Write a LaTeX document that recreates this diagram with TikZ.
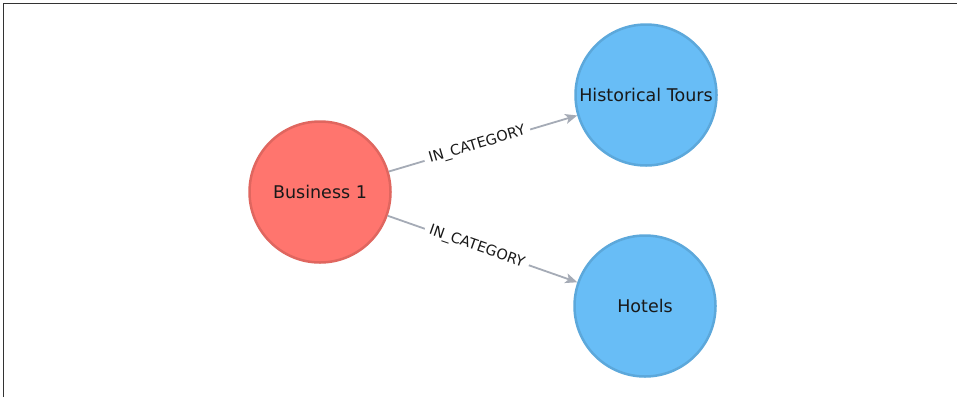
\documentclass[tikz,border=0pt]{standalone}
\usepackage{fontspec}
\setmainfont{DejaVu Sans}
\usetikzlibrary{arrows.meta}
\definecolor{redfill}{HTML}{FF756E}
\definecolor{redline}{HTML}{E0665F}
\definecolor{bluefill}{HTML}{68BDF6}
\definecolor{blueline}{HTML}{5CA8DB}
\definecolor{edgegray}{HTML}{A5ABB6}
\tikzset{
  entity/.style={circle, minimum size=141pt, inner sep=0pt, line width=2.5pt, font=\fontsize{17.5}{20}\selectfont, text=black!90},
  business/.style={entity, fill=redfill, draw=redline},
  category/.style={entity, fill=bluefill, draw=blueline},
  rel/.style={draw=edgegray, line width=1.8pt, -{Stealth[length=12pt,width=10pt,inset=3pt]}},
  rellabel/.style={sloped, fill=white, inner xsep=5pt, inner ysep=2pt, font=\fontsize{14.5}{17}\selectfont, text=black!90}
}
\begin{document}
\begin{tikzpicture}[x=1pt,y=-1pt]
\useasboundingbox (0,0) rectangle (957,397);
\fill[white] (0,0) rectangle (957,397);
\coordinate (fbl) at (3.5,397);
\coordinate (ftl) at (3.5,3.5);
\coordinate (ftr) at (957,3.5);
\draw[line width=1.3pt, black!80] (fbl) -- (ftl) -- (ftr);
\node[business] (b1) at (320,192) {Business 1};
\node[category] (ht) at (646,95) {Historical Tours};
\node[category] (ho) at (645,306) {Hotels};
\draw[rel] (b1) -- node[rellabel, pos=0.47] {IN\_CATEGORY} (ht);
\draw[rel] (b1) -- node[rellabel, pos=0.47] {IN\_CATEGORY} (ho);
\end{tikzpicture}
\end{document}
